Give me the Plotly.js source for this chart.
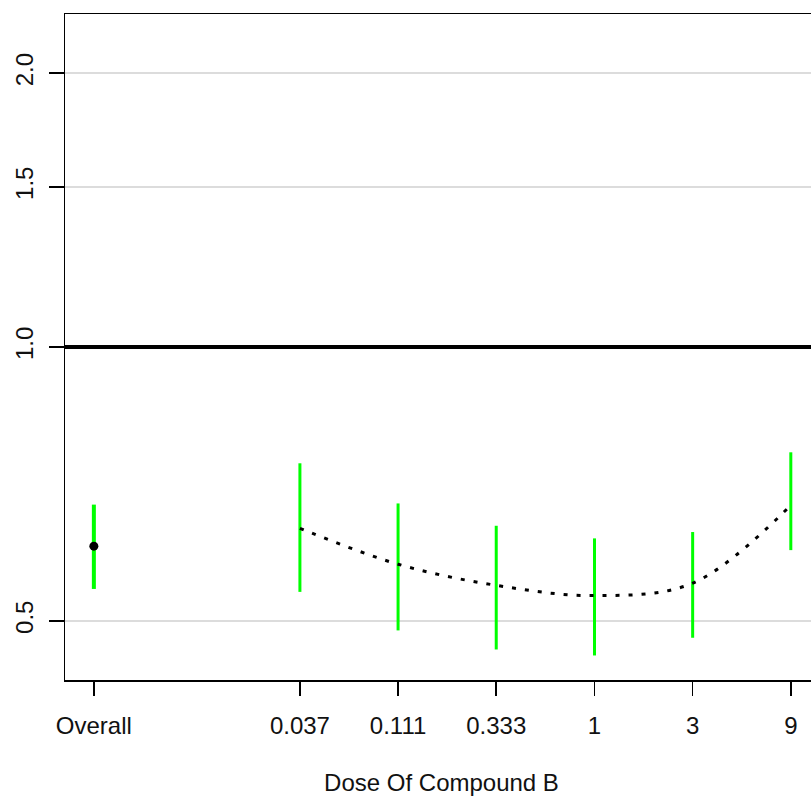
<!DOCTYPE html>
<html>
<head>
<meta charset="utf-8">
<script src="https://cdn.plot.ly/plotly-3.0.1.min.js"></script>
<style>
html, body { margin: 0; padding: 0; overflow: hidden; background: #fff; }
#chart { width: 840px; height: 796px; }
</style>
</head>
<body>
<div id="chart"></div>
<script>
// ---- data ----
const doseLabels = ["0.037", "0.111", "0.333", "1", "3", "9"];
const doses = [0.037, 0.111, 0.333, 1, 3, 9];
const ratio = [0.632, 0.577, 0.547, 0.533, 0.550, 0.670];
const upper = [0.745, 0.673, 0.636, 0.616, 0.626, 0.766];
const lower = [0.538, 0.488, 0.465, 0.458, 0.479, 0.598];

const overallLabel = "Overall";
const overallRatio = [0.604];
const overallUpper = [0.671];
const overallLower = [0.542];

const refValue = 1.0;
const yTickVals = [0.5, 1.0, 1.5, 2.0];
const yTickText = ["0.5", "1.0", "1.5", "2.0"];

// ---- positions (log base 3 of dose; overall placed left) ----
const xs = doses.map(d => Math.log(d) / Math.log(3));
const overallX = -5.1;
const xRange = [-5.394, 2.277];

const font = "Liberation Sans, Arial, sans-serif";

const traces = [
  { // reference line at 1.0
    x: xRange, y: [refValue, refValue], mode: "lines",
    line: { color: "#000", width: 4 }, hoverinfo: "skip", cliponaxis: true
  },
  { // dose error bars
    x: xs, y: ratio, mode: "markers",
    marker: { size: 1, color: "rgba(0,0,0,0)" },
    error_y: {
      type: "data", symmetric: false,
      array: upper.map((u, i) => u - ratio[i]),
      arrayminus: lower.map((l, i) => ratio[i] - l),
      color: "#00ff00", thickness: 3, width: 0
    }
  },
  { // overall error bar
    x: [overallX], y: overallRatio, mode: "markers",
    marker: { size: 9, color: "#000" },
    error_y: {
      type: "data", symmetric: false,
      array: overallUpper.map((u, i) => u - overallRatio[i]),
      arrayminus: overallLower.map((l, i) => overallRatio[i] - l),
      color: "#00ff00", thickness: 4, width: 0
    }
  },
  { // dotted smooth curve
    x: xs, y: ratio, mode: "lines",
    line: { color: "#000", width: 3, dash: "4px,9px", shape: "spline" }
  }
];

const layout = {
  width: 840, height: 796,
  margin: { l: 65, r: 22, t: 14, b: 116 },
  paper_bgcolor: "#fff", plot_bgcolor: "#fff",
  showlegend: false,
  font: { family: font, size: 24, color: "#000" },
  xaxis: {
    range: xRange,
    tickmode: "array",
    tickvals: [overallX].concat(xs),
    ticktext: [overallLabel].concat(doseLabels),
    ticks: "outside", ticklen: 14, tickwidth: 1.5, tickcolor: "#000",
    ticklabelstandoff: 10,
    showline: true, mirror: true, linecolor: "#000", linewidth: 1.5,
    showgrid: false, zeroline: false,
    tickfont: { family: font, size: 24, color: "#111" },
    title: { text: "Dose Of Compound B", font: { family: font, size: 24, color: "#111" }, standoff: 36 }
  },
  yaxis: {
    type: "log",
    range: [-0.3661, 0.3661],
    tickmode: "array",
    tickvals: yTickVals, ticktext: yTickText,
    tickangle: -90,
    ticks: "outside", ticklen: 15, tickwidth: 1.5, tickcolor: "#000",
    ticklabelstandoff: 6,
    showline: true, mirror: true, linecolor: "#000", linewidth: 1.5,
    showgrid: true, gridcolor: "#dcdcdc", gridwidth: 2, zeroline: false,
    tickfont: { family: font, size: 24, color: "#111" }
  }
};

Plotly.newPlot("chart", traces, layout, { displayModeBar: false, staticPlot: true });
</script>
</body>
</html>
